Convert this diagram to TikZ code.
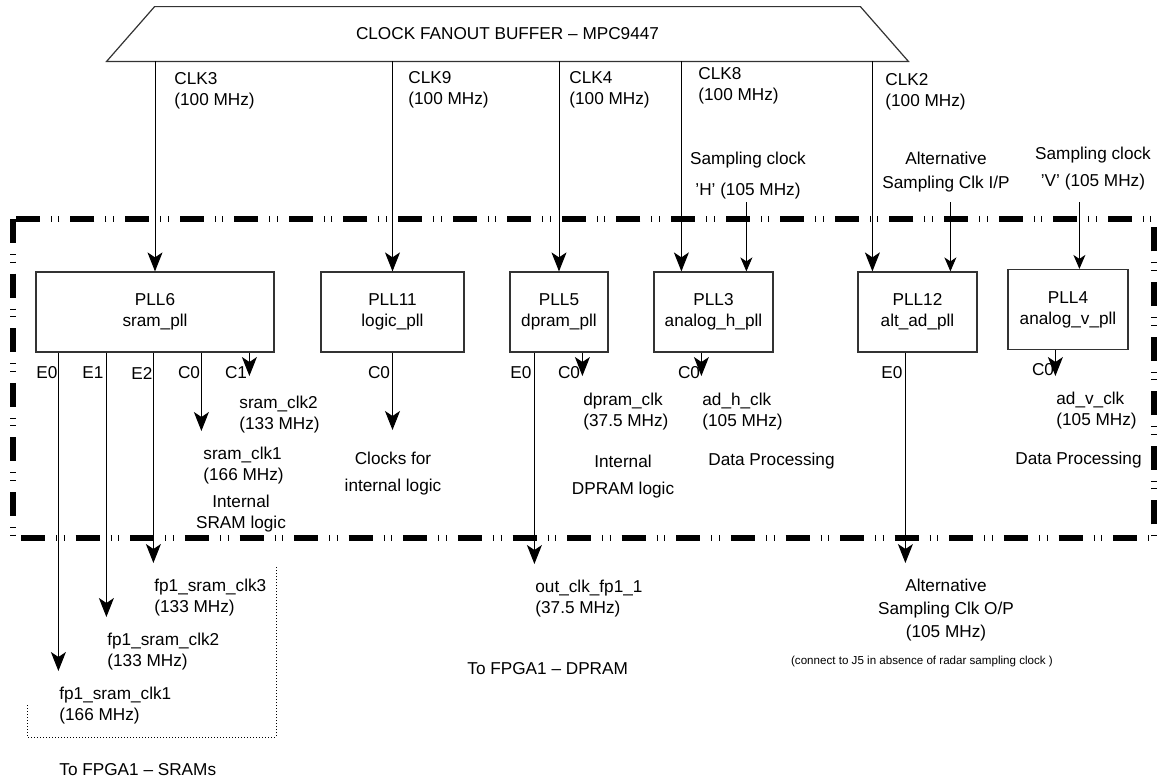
\documentclass[tikz,border=0pt]{standalone}
\usepackage{fontspec}
\setmainfont{Liberation Sans}
\usetikzlibrary{arrows.meta}

\begin{document}
\begin{tikzpicture}[x=0.5pt,y=-0.5pt,
  every node/.style={font=\fontsize{8.6}{10.5}\selectfont},
  pllbox/.style={draw=black!80,line width=0.6pt,minimum height=40pt,align=center,inner sep=0pt},
  clkarrow/.style={-{Stealth[length=9.5pt,width=7.5pt,inset=2.5pt]},line width=0.5pt},
  sampin/.style={-{Stealth[length=7pt,width=6pt,inset=2pt]},line width=0.5pt},
  feed/.style={clkarrow,shorten >=7pt},
  lbl/.style={anchor=north west,align=left,inner sep=1pt},
  clbl/.style={anchor=north,align=center,inner sep=1pt},
  portlbl/.style={inner sep=0pt},
  fencebox/.style={line width=3pt,dash pattern=on 12pt off 5.5pt on 0.5pt off 3.3pt on 0.5pt off 5.5pt}]
\useasboundingbox (0,0) rectangle (1158,778);

\draw[fencebox] (12.5,219) rectangle (1154,538);

\node[minimum width=400.5pt,minimum height=27pt,inner sep=0pt] (buf) at (507.5,34) {CLOCK FANOUT BUFFER -- MPC9447};
\draw[black!80,line width=0.6pt] (buf.south west) -- ([xshift=24pt]buf.north west) -- ([xshift=-24pt]buf.north east) -- (buf.south east) -- cycle;

\node[pllbox,minimum width=119pt] (pll6) at (155,312) {PLL6\\sram\_pll};
\node[pllbox,minimum width=71.5pt] (pll11) at (392.5,312) {PLL11\\logic\_pll};
\node[pllbox,minimum width=49pt] (pll5) at (559,312) {PLL5\\dpram\_pll};
\node[pllbox,minimum width=59.5pt] (pll3) at (713.5,312) {PLL3\\analog\_h\_pll};
\node[pllbox,minimum width=59.5pt] (pll12) at (917.5,312) {PLL12\\alt\_ad\_pll};
\node[pllbox,minimum width=60pt] (pll4) at (1068,309.5) {PLL4\\analog\_v\_pll};

% fanout outputs
\node[lbl] (clk3lbl) at (172,70) {CLK3\\(100 MHz)};
\node[lbl] (clk9lbl) at (406,69) {CLK9\\(100 MHz)};
\node[lbl] (clk4lbl) at (567,69) {CLK4\\(100 MHz)};
\node[lbl] (clk8lbl) at (696,65) {CLK8\\(100 MHz)};
\node[lbl] (clk2lbl) at (883,71) {CLK2\\(100 MHz)};
\coordinate (in8) at ([xshift=14pt]pll3.north west);
\coordinate (in2) at ([xshift=7.5pt]pll12.north west);
\draw[clkarrow] (buf.south -| pll6.north) -- (pll6.north);
\draw[clkarrow] (buf.south -| pll11.north) -- (pll11.north);
\draw[clkarrow] (buf.south -| pll5.north) -- (pll5.north);
\draw[clkarrow] (buf.south -| in8) -- (in8);
\draw[clkarrow] (buf.south -| in2) -- (in2);

% sampling inputs
\node[clbl] (samph) at (748,150) {Sampling clock\\[5pt]'H' (105 MHz)};
\node[clbl] (altin) at (946,150) {Alternative\\[1.5pt]Sampling Clk I/P};
\node[clbl] (sampv) at (1093,145) {Sampling clock\\[3pt]'V' (105 MHz)};
\coordinate (samprow) at (0,202);
\coordinate (inh) at ([xshift=46.5pt]pll3.north west);
\coordinate (inip) at ([xshift=46.5pt]pll12.north west);
\coordinate (inv) at ([xshift=36pt]pll4.north west);
\draw[sampin] (inh |- samprow) -- (inh);
\draw[sampin] (inip |- samprow) -- (inip);
\draw[sampin] (inv |- samprow) -- (inv);

% pll ports
\coordinate (e0o6) at ([xshift=11.5pt]pll6.south west);
\coordinate (e1o6) at ([xshift=35.5pt]pll6.south west);
\coordinate (e2o6) at ([xshift=59pt]pll6.south west);
\coordinate (c0o6) at ([xshift=83pt]pll6.south west);
\coordinate (c1o6) at ([xshift=107pt]pll6.south west);
\coordinate (e0o5) at ([xshift=12.5pt]pll5.south west);
\coordinate (c0o5) at ([xshift=36.5pt]pll5.south west);
\coordinate (c0o3) at ([xshift=24pt]pll3.south west);
\coordinate (e0o12) at ([xshift=24pt]pll12.south west);
\coordinate (c0o4) at ([xshift=24pt]pll4.south west);
\coordinate (stubrow) at (0,376);

\node[portlbl] (e0p6) at (47,373) {E0};
\node[portlbl] (e1p6) at (93,373) {E1};
\node[portlbl] (e2p6) at (142,373) {E2};
\node[portlbl] (c0p6) at (189,373) {C0};
\node[portlbl] (c1p6) at (236,373) {C1};
\node[portlbl] (c0p11) at (379,373) {C0};
\node[portlbl] (e0p5) at (521,373) {E0};
\node[portlbl] (c0p5) at (569,373) {C0};
\node[portlbl] (c0p3) at (689,373) {C0};
\node[portlbl] (e0p12) at (892,373) {E0};
\node[portlbl] (c0p4) at (1043,370) {C0};

% internal clocks
\node[lbl] (sclk2) at (237,394) {sram\_clk2\\(133 MHz)};
\node[lbl] (sclk1) at (201,445) {sram\_clk1\\(166 MHz)};
\node[clbl] (sramlogic) at (241,493) {Internal\\SRAM logic};
\node[clbl] (logicclk) at (393,450) {Clocks for\\[3pt]internal logic};
\node[lbl] (dpclk) at (581,391) {dpram\_clk\\(37.5 MHz)};
\node[clbl] (dplogic) at (623,453) {Internal\\[3pt]DPRAM logic};
\node[lbl] (adhclk) at (700,391) {ad\_h\_clk\\(105 MHz)};
\node[lbl] (adhproc) at (706,451) {Data Processing};
\node[lbl] (advclk) at (1054,390) {ad\_v\_clk\\(105 MHz)};
\node[lbl] (advproc) at (1013,450) {Data Processing};

% external clocks
\node[lbl] (fpclk3) at (152,577) {fp1\_sram\_clk3\\(133 MHz)};
\node[lbl] (fpclk2) at (105,631) {fp1\_sram\_clk2\\(133 MHz)};
\node[lbl] (fpclk1) at (57,685) {fp1\_sram\_clk1\\(166 MHz)};
\node[lbl] (sramdest) at (57,761) {To FPGA1 -- SRAMs};
\node[lbl] (outclk) at (533,578) {out\_clk\_fp1\_1\\(37.5 MHz)};
\node[lbl] (dpdest) at (465,660) {To FPGA1 -- DPRAM};
\node[clbl] (altout) at (946,577) {Alternative\\[1pt]Sampling Clk O/P\\[1pt](105 MHz)};
\node[clbl,font=\fontsize{5.8}{7}\selectfont] (altnote) at (922,654) {(connect to J5 in absence of radar sampling clock )};

\draw[feed] (e0o6) -- (e0o6 |- fpclk1.north);
\draw[feed] (e1o6) -- (e1o6 |- fpclk2.north);
\draw[feed] (e2o6) -- (e2o6 |- fpclk3.north);
\draw[feed] (c0o6) -- (c0o6 |- sclk1.north);
\draw[clkarrow] (c1o6) -- (c1o6 |- stubrow);
\draw[feed,shorten >=10pt] (pll11.south) -- (pll11.south |- logicclk.north);
\draw[feed] (e0o5) -- (e0o5 |- outclk.north);
\draw[clkarrow] (c0o5) -- (c0o5 |- stubrow);
\draw[clkarrow] (c0o3) -- (c0o3 |- stubrow);
\draw[feed] (e0o12) -- (e0o12 |- altout.north);
\draw[clkarrow] (c0o4) -- (c0o4 |- stubrow);

\draw[densely dotted,line width=0.5pt] (27,705) -- (27,737) -- (276,737) -- (276,567);
\end{tikzpicture}
\end{document}
